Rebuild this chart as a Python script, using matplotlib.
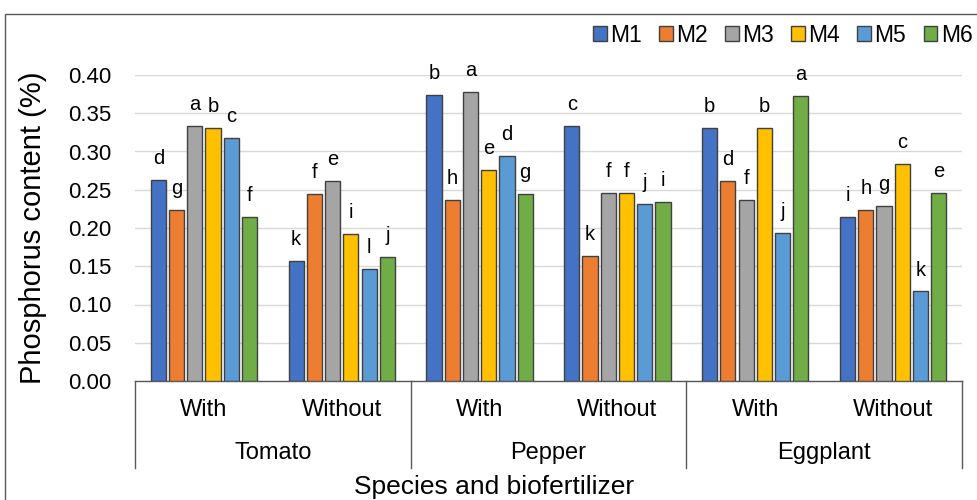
import numpy as np
import matplotlib
matplotlib.use("Agg")
import matplotlib.pyplot as plt
from matplotlib.patches import Rectangle, Patch

plt.rcParams["font.family"] = ["Liberation Sans", "DejaVu Sans"]

# ---- data ----
species = ["Tomato", "Pepper", "Eggplant"]
treatments = ["With", "Without"]
series = ["M1", "M2", "M3", "M4", "M5", "M6"]
colors = ["#4472C4", "#ED7D31", "#A5A5A5", "#FFC000", "#5B9BD5", "#70AD47"]

# one value per species x treatment (Tomato With, Tomato Without, ...)
m1 = [0.263, 0.157, 0.374, 0.333, 0.331, 0.214]
m2 = [0.224, 0.244, 0.236, 0.163, 0.261, 0.224]
m3 = [0.333, 0.261, 0.378, 0.246, 0.236, 0.229]
m4 = [0.331, 0.192, 0.276, 0.246, 0.331, 0.284]
m5 = [0.318, 0.147, 0.294, 0.232, 0.194, 0.117]
m6 = [0.214, 0.162, 0.244, 0.234, 0.373, 0.246]

let_m1 = ["d", "k", "b", "c", "b", "i"]
let_m2 = ["g", "f", "h", "k", "d", "h"]
let_m3 = ["a", "e", "a", "f", "f", "g"]
let_m4 = ["b", "i", "e", "f", "b", "c"]
let_m5 = ["c", "l", "d", "j", "j", "k"]
let_m6 = ["f", "j", "g", "i", "a", "e"]

values = [m1, m2, m3, m4, m5, m6]
letters = [let_m1, let_m2, let_m3, let_m4, let_m5, let_m6]

W, H = 978, 500
fig = plt.figure(figsize=(W / 100, H / 100), dpi=100)
fig.patch.set_facecolor("white")

ax = fig.add_axes([135 / W, 1 - 381 / H, 827 / W, 306 / H])
ax.set_facecolor("white")

n_grp = len(species) * len(treatments)
x = np.arange(n_grp)
pitch = 0.1325
width = 0.11

for j, (vals, labs) in enumerate(zip(values, letters)):
    xs = x + (j - 2.5) * pitch
    ax.bar(xs, vals, width=width, color=colors[j], edgecolor="#404040",
           linewidth=1.0, zorder=3, label=series[j])
    for xi, v, t in zip(xs, vals, labs):
        ax.annotate(t, (xi, v), xytext=(0, 11.5), textcoords="offset points",
                    ha="center", va="baseline", fontsize=14.5, color="#000000",
                    annotation_clip=False)

ax.set_xlim(-0.5, n_grp - 0.5)
ax.set_ylim(0, 0.40)
ax.set_yticks(np.arange(0, 0.401, 0.05))
ax.set_yticklabels(["%.2f" % t for t in np.arange(0, 0.401, 0.05)])
ax.tick_params(axis="y", length=0, pad=17, labelsize=16)
ax.set_xticks([])
ax.grid(axis="y", color="#D9D9D9", linewidth=1.0, zorder=0)
for s in ["top", "right", "left"]:
    ax.spines[s].set_visible(False)
ax.spines["bottom"].set_color("#595959")
ax.spines["bottom"].set_linewidth(1.0)

# multi-level category axis
tr = ax.get_xaxis_transform()
for i in range(n_grp):
    ax.text(x[i], -0.095, treatments[i % 2], transform=tr, ha="center",
            va="center", fontsize=17)
for k, sp in enumerate(species):
    ax.text(2 * k + 0.5, -0.235, sp, transform=tr, ha="center",
            va="center", fontsize=17)
for b in np.arange(-0.5, n_grp, 2):
    ax.plot([b, b], [0, -0.285], transform=tr, color="#595959",
            linewidth=1.0, clip_on=False)

fig.text(494.5 / W, 1 - 487 / H, "Species and biofertilizer",
         ha="center", va="center", fontsize=19)
fig.text(33 / W, 1 - 228 / H, "Phosphorus content (%)", rotation=90,
         ha="center", va="center", fontsize=21)

# legend, kept just inside the right edge
handles = [Patch(facecolor=c, edgecolor="#404040", linewidth=1.0) for c in colors]
fig.legend(handles, series, loc="center left",
           bbox_to_anchor=(584 / W, 1 - 35 / H), ncol=6, frameon=False,
           fontsize=16.5, handlelength=0.6, handleheight=0.6,
           handletextpad=0.15, columnspacing=0.75, borderaxespad=0)

# chart area border
fig.add_artist(Rectangle((5 / W, -0.1), 1.2, 1.1 - 14 / H,
                         transform=fig.transFigure, fill=False,
                         edgecolor="#595959", linewidth=1.0))

fig.savefig("out.png", dpi=100, facecolor="white")
